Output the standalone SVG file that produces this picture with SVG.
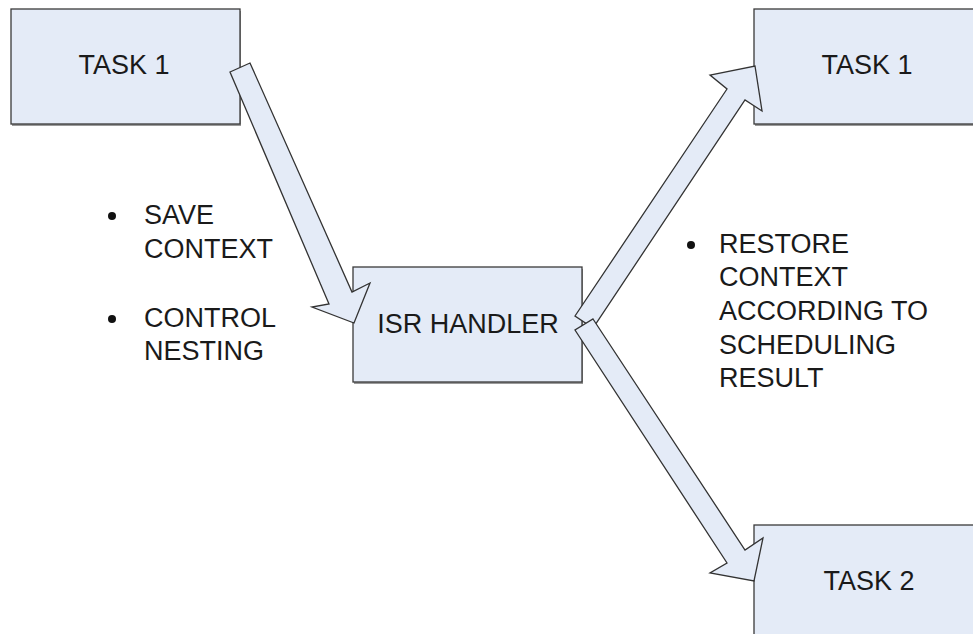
<svg xmlns="http://www.w3.org/2000/svg" width="973" height="634" viewBox="0 0 973 634">
<style>
.box{fill:#e4ebf7;stroke:#3a3a3a;stroke-width:1.3}
.shadow{fill:#9a9a9a}
.arrow{fill:#e4ebf7;stroke:#333;stroke-width:1.3;stroke-linejoin:miter}
text{font-family:"Liberation Sans",Arial,sans-serif;font-size:27px;fill:#1a1a1a}
.c{text-anchor:middle}
</style>
<rect width="973" height="634" fill="#ffffff"/>
<g id="task1-left">
<rect class="shadow" x="12" y="11" width="229" height="115"/>
<rect class="box" x="11" y="9" width="229" height="115"/>
<text class="c" x="124" y="74">TASK 1</text>
</g>
<g id="task1-right">
<rect class="shadow" x="755" y="11" width="240" height="115"/>
<rect class="box" x="754" y="9" width="240" height="115"/>
<text class="c" x="867" y="74">TASK 1</text>
</g>
<g id="isr-handler">
<rect class="shadow" x="354" y="269" width="229" height="115"/>
<rect class="box" x="353" y="267" width="229" height="115"/>
<text class="c" x="468" y="333">ISR HANDLER</text>
</g>
<g id="task2">
<rect class="shadow" x="755" y="527" width="240" height="130"/>
<rect class="box" x="754" y="525" width="240" height="130"/>
<text class="c" x="869" y="590">TASK 2</text>
</g>
<g id="connectors">
<polygon class="arrow" points="230,72 250,63 352,292 370,283 354,323 312,307 329,304"/>
<polygon class="arrow" points="575,316 727,89 710,75 755,66 762,111 745,100 593,328"/>
<polygon class="arrow" points="593,319 745,550 763,538 754,581 710,573 727,563 575,330"/>
</g>
<g id="notes-left">
<circle cx="112" cy="216" r="4" fill="#111"/>
<text x="144" y="224">SAVE</text>
<text x="144" y="258">CONTEXT</text>
<circle cx="112" cy="319" r="4" fill="#111"/>
<text x="144" y="327">CONTROL</text>
<text x="144" y="360">NESTING</text>
</g>
<g id="notes-right">
<circle cx="691" cy="245" r="4" fill="#111"/>
<text x="719" y="253">RESTORE</text>
<text x="719" y="286">CONTEXT</text>
<text x="719" y="320">ACCORDING TO</text>
<text x="719" y="354">SCHEDULING</text>
<text x="719" y="387">RESULT</text>
</g>
</svg>
